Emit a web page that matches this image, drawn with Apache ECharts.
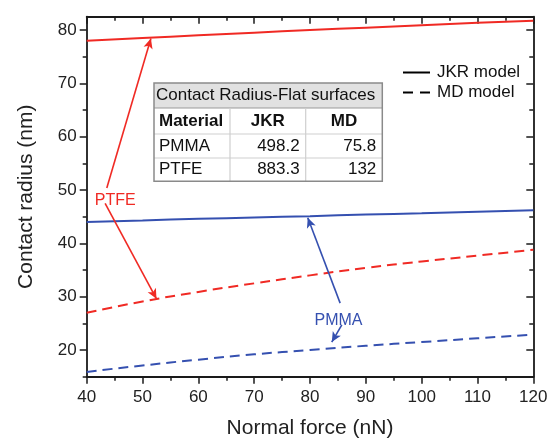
<!DOCTYPE html>
<html>
<head>
<meta charset="utf-8">
<script src="https://cdn.jsdelivr.net/npm/echarts@6/dist/echarts.min.js"></script>
<style>html,body{margin:0;padding:0;background:#fff}#c{width:548px;height:439px}</style>
</head>
<body>
<div id="c"></div>
<script>
// ---- data ----
var forceN = [40, 50, 60, 70, 80, 90, 100, 110, 120];
var ptfeJKR = [78.0, 78.5, 79.0, 79.5, 80.0, 80.45, 80.9, 81.35, 81.75];
var pmmaJKR = [44.0, 44.3, 44.6, 44.85, 45.1, 45.4, 45.65, 45.95, 46.2];
var ptfeMD  = [27.0, 29.1, 30.9, 32.5, 34.0, 35.4, 36.6, 37.7, 38.8];
var pmmaMD  = [15.9, 17.1, 18.2, 19.2, 20.0, 20.8, 21.5, 22.2, 22.9];
var yMajorTicks = [20, 30, 40, 50, 60, 70, 80];
var yMinorTicks = [15, 25, 35, 45, 55, 65, 75];
var legendNames = ['JKR model', 'MD model'];
var tableTitle = 'Contact Radius-Flat surfaces';
var tableHeader = ['Material', 'JKR', 'MD'];
var tableRows = [['PMMA', '498.2', '75.8'], ['PTFE', '883.3', '132']];
// annotation arrows [fromX, fromY, toX, toY] in data units
var ptfeArrows = [[43.6, 50.4, 51.5, 78.4], [43.3, 47.5, 52.5, 29.6]];
var pmmaArrows = [[85.4, 28.8, 79.6, 44.8], [85.7, 24.7, 83.9, 21.5]];
var ptfeLabel = [45.1, 48.0];
var pmmaLabel = [85.1, 25.5];

// ---- styles ----
var FONT = '"Liberation Sans", Arial, sans-serif';
var RED = '#f02a24';
var BLUE = '#3550b0';
var AX = '#1a1a1a';
var DASH = [10, 6];

function pairs(ys) { return forceN.map(function (x, i) { return [x, ys[i]]; }); }
function arrowData(list) {
  return list.map(function (a) {
    return [{ coord: [a[0], a[1]], symbol: 'none' }, { coord: [a[2], a[3]], symbol: 'arrow' }];
  });
}
function markLineFor(list, color) {
  return {
    silent: true, animation: false, symbolSize: [7, 10],
    label: { show: false },
    lineStyle: { type: 'solid', width: 1.6, color: color },
    data: arrowData(list)
  };
}
function markPointFor(pos, text, color) {
  return {
    silent: true, animation: false,
    symbol: 'rect', symbolSize: 1,
    itemStyle: { color: 'rgba(0,0,0,0)' },
    label: { show: true, position: 'inside', formatter: text, color: color, fontSize: 16, fontFamily: FONT },
    data: [{ coord: pos }]
  };
}

var tickLine = { color: AX, width: 1.5 };
var xBase = {
  type: 'value', min: 40, max: 120, interval: 10,
  splitLine: { show: false }, minorSplitLine: { show: false },
  axisLine: { show: true, onZero: false, lineStyle: { color: AX, width: 1.8 } }
};
var xBottom = Object.assign({}, xBase, {
  position: 'bottom',
  axisTick: { show: true, inside: false, length: 7, lineStyle: tickLine },
  minorTick: { show: true, splitNumber: 2, length: 4, lineStyle: tickLine },
  axisLabel: { fontSize: 17, color: '#222', margin: 12, fontFamily: FONT },
  name: 'Normal force (nN)', nameLocation: 'middle', nameGap: 41,
  nameTextStyle: { fontSize: 21, color: '#222', fontFamily: FONT }
});
var xTop = Object.assign({}, xBase, {
  position: 'top',
  axisTick: { show: true, inside: true, length: 7, lineStyle: tickLine },
  minorTick: { show: true, splitNumber: 2, length: 4, lineStyle: tickLine },
  axisLabel: { show: false }
});
function yAxisDef(pos, ticks, len, inside, withLine, withLabel) {
  var d = {
    type: 'value', min: 15, max: 82.5, position: pos, offset: 0,
    splitLine: { show: false },
    axisLine: { show: withLine, onZero: false, lineStyle: { color: AX, width: 1.8 } },
    axisTick: { show: true, inside: inside, length: len, customValues: ticks, lineStyle: tickLine },
    axisLabel: withLabel ? { show: true, customValues: ticks, fontSize: 17, color: '#222', margin: 10, fontFamily: FONT } : { show: false }
  };
  if (withLabel) {
    d.name = 'Contact radius (nm)';
    d.nameLocation = 'middle';
    d.nameGap = 50;
    d.nameTextStyle = { fontSize: 21, color: '#222', fontFamily: FONT };
  }
  return d;
}

// ---- table graphic ----
var T = { x: 154, y: 83, w: 228.3, rowY: [83, 108, 134, 158, 181.3], colX: [154, 230, 305.7, 382.3] };
var g = [];
g.push({ type: 'rect', shape: { x: T.x, y: T.y, width: T.w, height: T.rowY[4] - T.y }, style: { fill: '#fff', stroke: 'none' }, z: 100 });
g.push({ type: 'rect', shape: { x: T.x, y: T.rowY[0], width: T.w, height: T.rowY[1] - T.rowY[0] }, style: { fill: '#e1e1e1' }, z: 100 });
for (var r = 1; r < 4; r++) {
  g.push({ type: 'line', shape: { x1: T.x, y1: T.rowY[r], x2: T.x + T.w, y2: T.rowY[r] }, style: { stroke: r === 1 ? '#9a9a9a' : '#cfcfcf', lineWidth: 1.2 }, z: 101 });
}
for (var c = 1; c < 3; c++) {
  g.push({ type: 'line', shape: { x1: T.colX[c], y1: T.rowY[1], x2: T.colX[c], y2: T.rowY[4] }, style: { stroke: '#cfcfcf', lineWidth: 1.2 }, z: 101 });
}
g.push({ type: 'rect', shape: { x: T.x, y: T.y, width: T.w, height: T.rowY[4] - T.y }, style: { fill: 'none', stroke: '#8a8a8a', lineWidth: 1.5 }, z: 102 });
function cellText(txt, x, y, align, bold) {
  return { type: 'text', x: x, y: y, z: 103, style: { text: txt, fill: '#111', font: (bold ? 'bold ' : '') + '17px ' + FONT, textAlign: align, textVerticalAlign: 'middle' } };
}
g.push(cellText(tableTitle, T.x + 2, (T.rowY[0] + T.rowY[1]) / 2, 'left', false));
g.push(cellText(tableHeader[0], T.x + 5, (T.rowY[1] + T.rowY[2]) / 2, 'left', true));
g.push(cellText(tableHeader[1], (T.colX[1] + T.colX[2]) / 2, (T.rowY[1] + T.rowY[2]) / 2, 'center', true));
g.push(cellText(tableHeader[2], (T.colX[2] + T.colX[3]) / 2, (T.rowY[1] + T.rowY[2]) / 2, 'center', true));
tableRows.forEach(function (row, i) {
  var cy = (T.rowY[2 + i] + T.rowY[3 + i]) / 2;
  g.push(cellText(row[0], T.x + 5, cy, 'left', false));
  g.push(cellText(row[1], T.colX[2] - 6, cy, 'right', false));
  g.push(cellText(row[2], T.colX[3] - 6, cy, 'right', false));
});

var chart = echarts.init(document.getElementById('c'), null, { renderer: 'canvas' });
chart.setOption({
  animation: false,
  backgroundColor: '#fff',
  textStyle: { fontFamily: FONT },
  grid: { left: 86.7, right: 14.7, top: 16.7, bottom: 62.3, containLabel: false, outerBoundsMode: 'none' },
  xAxis: [xBottom, xTop],
  yAxis: [
    yAxisDef('left', yMajorTicks, 7, false, true, true),
    yAxisDef('left', yMinorTicks, 4, false, false, false),
    yAxisDef('right', yMajorTicks, 7, true, true, false),
    yAxisDef('right', yMinorTicks, 4, true, false, false)
  ],
  legend: {
    orient: 'vertical', left: 398, top: 59, itemWidth: 27, itemHeight: 2, itemGap: 3,
    textStyle: { fontSize: 17, color: '#111', fontFamily: FONT, padding: [0, 0, 0, 2] },
    itemStyle: { color: '#000' },
    data: [
      { name: legendNames[0], icon: 'path://M0,0H27V2H0Z' },
      { name: legendNames[1], icon: 'path://M0,0H10V2H0Z M17,0H27V2H17Z' }
    ]
  },
  graphic: g,
  series: [
    { name: legendNames[0], type: 'line', data: [], symbol: 'none', color: '#000', lineStyle: { color: '#000', width: 2 }, itemStyle: { color: '#000' } },
    { name: legendNames[1], type: 'line', data: [], symbol: 'none', color: '#000', lineStyle: { color: '#000', width: 2, type: DASH }, itemStyle: { color: '#000' } },
    { name: 'PTFE JKR', type: 'line', data: pairs(ptfeJKR), symbol: 'none', smooth: true, lineStyle: { color: RED, width: 2 },
      markLine: markLineFor(ptfeArrows, RED), markPoint: markPointFor(ptfeLabel, 'PTFE', RED) },
    { name: 'PMMA JKR', type: 'line', data: pairs(pmmaJKR), symbol: 'none', smooth: true, lineStyle: { color: BLUE, width: 2 },
      markLine: markLineFor(pmmaArrows, BLUE), markPoint: markPointFor(pmmaLabel, 'PMMA', BLUE) },
    { name: 'PTFE MD', type: 'line', data: pairs(ptfeMD), symbol: 'none', smooth: true, lineStyle: { color: RED, width: 2, type: DASH } },
    { name: 'PMMA MD', type: 'line', data: pairs(pmmaMD), symbol: 'none', smooth: true, lineStyle: { color: BLUE, width: 2, type: DASH } }
  ]
});
</script>
</body>
</html>
